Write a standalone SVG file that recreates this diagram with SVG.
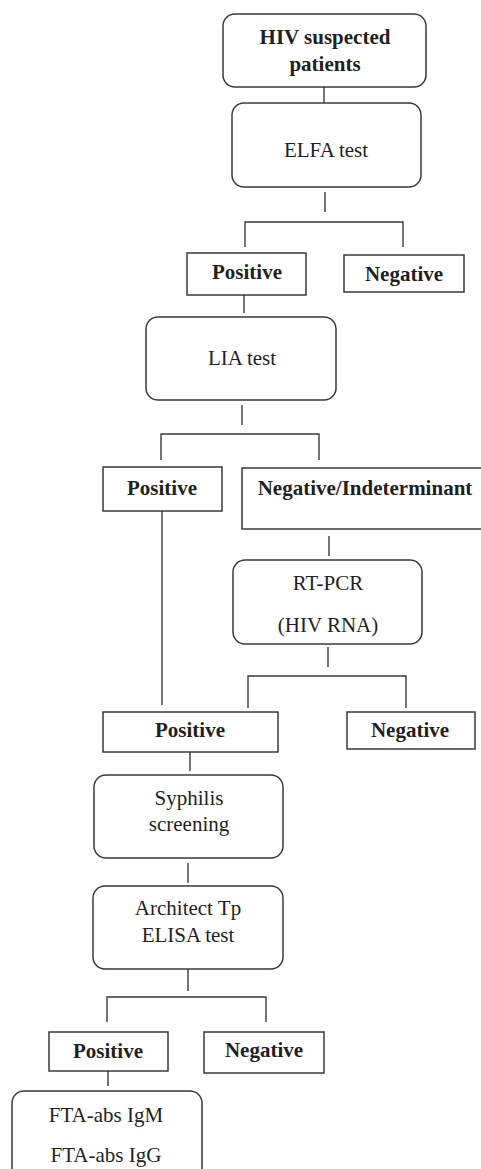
<svg xmlns="http://www.w3.org/2000/svg" width="481" height="1169" viewBox="0 0 481 1169">
<style>
.box{fill:#fff;stroke:#3a3a3a;stroke-width:1.5}
.t{font-family:"Liberation Serif","Times New Roman",serif;font-size:21px;fill:#231f20;text-anchor:middle}
.b{font-weight:bold}
.c{fill:none;stroke:#3a3a3a;stroke-width:1.4}
</style>
<rect width="481" height="1169" fill="#fff"/>
<g id="connectors">
<path class="c" d="M324 87V103"/>
<path class="c" d="M325 192V212M245 247V222H403V247"/>
<path class="c" d="M244 293V313"/>
<path class="c" d="M242 405V425M161 460V434H319V460"/>
<path class="c" d="M162 505V705"/>
<path class="c" d="M329 536V556"/>
<path class="c" d="M328 647V667M248 708V676H406V708"/>
<path class="c" d="M190 750V771"/>
<path class="c" d="M188 863V883"/>
<path class="c" d="M188 969V991M107 1022V997H266V1022"/>
<path class="c" d="M108 1066V1086"/>
</g>
<g id="hiv"><rect class="box" x="223" y="14" width="203" height="73" rx="12"/><text class="t b" x="325" y="44">HIV suspected</text><text class="t b" x="325" y="71">patients</text></g>
<g id="elfa"><rect class="box" x="232" y="103" width="189" height="84" rx="12"/><text class="t" x="326" y="157">ELFA test</text></g>
<g id="pos1"><rect class="box" x="187" y="253" width="119" height="42"/><text class="t b" x="247" y="279">Positive</text></g>
<g id="neg1"><rect class="box" x="344" y="255" width="120" height="37"/><text class="t b" x="404" y="281">Negative</text></g>
<g id="lia"><rect class="box" x="146" y="317" width="190" height="83" rx="12"/><text class="t" x="242" y="365">LIA test</text></g>
<g id="pos2"><rect class="box" x="103" y="467" width="119" height="44"/><text class="t b" x="162" y="495">Positive</text></g>
<g id="negind"><rect class="box" x="242" y="468" width="245" height="61"/><text class="t b" x="365" y="495">Negative/Indeterminant</text></g>
<g id="rtpcr"><rect class="box" x="233" y="560" width="189" height="84" rx="12"/><text class="t" x="328" y="590">RT-PCR</text><text class="t" x="328" y="632">(HIV RNA)</text></g>
<g id="pos3"><rect class="box" x="103" y="712" width="175" height="40"/><text class="t b" x="190" y="737">Positive</text></g>
<g id="neg2"><rect class="box" x="347" y="712" width="128" height="37"/><text class="t b" x="410" y="737">Negative</text></g>
<g id="syphilis"><rect class="box" x="94" y="775" width="189" height="83" rx="12"/><text class="t" x="189" y="805">Syphilis</text><text class="t" x="189" y="831">screening</text></g>
<g id="architect"><rect class="box" x="93" y="886" width="190" height="83" rx="12"/><text class="t" x="188" y="915">Architect Tp</text><text class="t" x="188" y="942">ELISA test</text></g>
<g id="pos4"><rect class="box" x="49" y="1032" width="119" height="39"/><text class="t b" x="108" y="1058">Positive</text></g>
<g id="neg4"><rect class="box" x="204" y="1032" width="120" height="41"/><text class="t b" x="264" y="1057">Negative</text></g>
<g id="fta"><rect class="box" x="12" y="1091" width="190" height="90" rx="12"/><text class="t" x="106" y="1122">FTA-abs IgM</text><text class="t" x="106" y="1162">FTA-abs IgG</text></g>
</svg>
